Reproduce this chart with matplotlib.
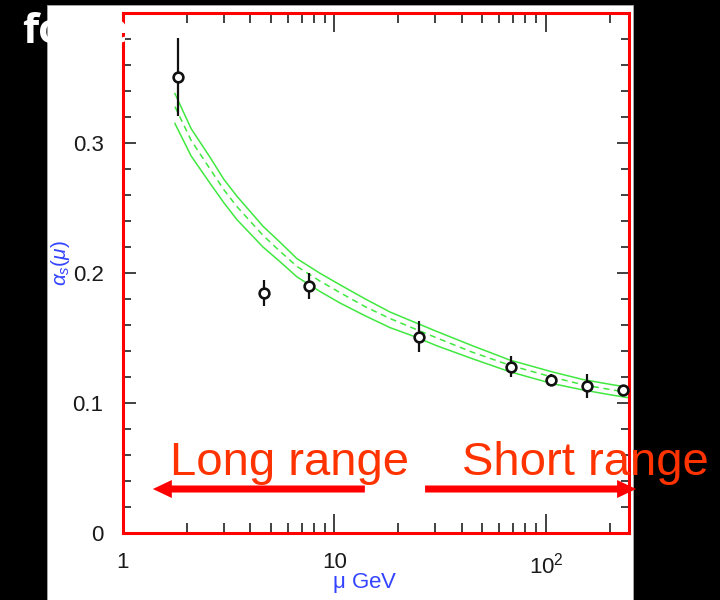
import matplotlib
matplotlib.use("Agg")
import matplotlib.pyplot as plt
from matplotlib.patches import Rectangle, FancyArrow
from matplotlib.ticker import FixedLocator, LogLocator, NullFormatter, MultipleLocator

plt.rcParams['font.family'] = ['Liberation Sans', 'DejaVu Sans']
plt.rcParams['mathtext.fontset'] = 'custom'
plt.rcParams['mathtext.rm'] = 'Liberation Sans'
plt.rcParams['mathtext.it'] = 'Liberation Sans:italic'

# measured alpha_s values with errors
mu_pts = [1.82, 4.66, 7.6, 25.0, 68.0, 106.0, 156.0, 231.0]
alpha_pts = [0.351, 0.185, 0.190, 0.151, 0.128, 0.118, 0.113, 0.110]
alpha_err = [0.030, 0.010, 0.010, 0.012, 0.008, 0.004, 0.009, 0.004]

# running coupling band (upper / central / lower)
mu_band = [1.76, 2.1, 2.58, 3.0, 3.46, 4.59, 5.5, 6.65, 8.5, 10.6,
           14.0, 18.3, 24.0, 30.5, 45.0, 67.6, 106.7, 150.0, 207.0, 247.0]
band_mid = [0.328, 0.302, 0.280, 0.264, 0.251, 0.229, 0.217, 0.205, 0.194, 0.185,
            0.174, 0.165, 0.157, 0.150, 0.139, 0.129, 0.120, 0.114, 0.110, 0.108]
band_hi = [0.338, 0.311, 0.289, 0.272, 0.259, 0.236, 0.224, 0.211, 0.200, 0.191,
           0.180, 0.170, 0.162, 0.155, 0.144, 0.133, 0.124, 0.118, 0.114, 0.112]
band_lo = [0.315, 0.290, 0.269, 0.254, 0.241, 0.220, 0.209, 0.197, 0.186, 0.177,
           0.167, 0.158, 0.151, 0.144, 0.134, 0.124, 0.115, 0.110, 0.106, 0.104]

xtick_vals = [1, 10, 100]
xtick_labels = ['1', '10', '$10^{2}$']
ytick_vals = [0, 0.1, 0.2, 0.3]
ytick_labels = ['0', '0.1', '0.2', '0.3']

fig = plt.figure(figsize=(7.2, 6), dpi=100)
fig.patch.set_facecolor('black')
fig.add_artist(Rectangle((47/720, 0), 586/720, 595/600, transform=fig.transFigure,
                         facecolor='white', edgecolor='#aaaaaa', lw=0.6, zorder=-1))

ax = fig.add_axes([123/720, 67/600, 506/720, 520/600])
ax.set_facecolor('white')

green = '#40e840'
ax.plot(mu_band, band_hi, color=green, lw=1.1)
ax.plot(mu_band, band_lo, color=green, lw=1.1)
ax.plot(mu_band, band_mid, color=green, lw=1.1, dashes=(4, 3))

ax.errorbar(mu_pts, alpha_pts, yerr=alpha_err, fmt='o', color='#111111',
            ecolor='#111111', elinewidth=1.6, capsize=0, ms=7,
            mfc='white', mec='#111111', mew=1.9, zorder=5)

ax.set_xscale('log')
ax.set_xlim(1, 247)
ax.set_ylim(0, 0.4)
ax.xaxis.set_major_locator(FixedLocator(xtick_vals))
ax.set_xticklabels(xtick_labels)
ax.xaxis.set_minor_locator(LogLocator(base=10, subs=range(2, 10)))
ax.xaxis.set_minor_formatter(NullFormatter())
ax.set_yticks(ytick_vals)
ax.set_yticklabels(ytick_labels)
ax.yaxis.set_minor_locator(MultipleLocator(0.02))

for s in ax.spines.values():
    s.set_color('red')
    s.set_linewidth(2.2)

ax.tick_params(which='both', direction='in', top=True, right=True, color='#333333', width=1.3)
ax.tick_params(axis='x', which='major', length=14, pad=14, labelsize=16, labelcolor='#1a1a1a')
ax.tick_params(axis='x', which='minor', length=7)
ax.tick_params(axis='y', which='major', length=9, pad=14, labelsize=16, labelcolor='#1a1a1a')
ax.tick_params(axis='y', which='minor', length=5.5)

fig.text(365/720, 1 - 583/600, r'$\mathrm{\mu}$ GeV', color='#3344ff', fontsize=16,
         ha='center', va='center')
fig.text(60/720, 1 - 263/600, r'$\alpha_s(\mu)$', color='#3344ff', fontsize=15,
         ha='center', va='center', rotation=90)

# long / short range arrows
red = '#ff0000'
for x0, x1 in [(0.478, 0.059), (0.597, 1.014)]:
    ax.add_patch(FancyArrow(x0, 0.0846, x1 - x0, 0, width=0.0135, head_width=0.0346,
                            head_length=0.0375, length_includes_head=True,
                            color=red, lw=0, transform=ax.transAxes, clip_on=False, zorder=6))

fig.text(170/720, 125/600, 'Long range', color='#ff3300', fontsize=34, va='baseline')
fig.text(462/720, 125/600, 'Short range', color='#ff3300', fontsize=34, va='baseline')

fig.text(22/720, 1 - 43/600, 'force', color='white', fontsize=30, fontweight='bold',
         family=['Open Sans', 'DejaVu Sans'], va='baseline', zorder=10)

fig.savefig('out.png', dpi=100, facecolor=fig.get_facecolor())
